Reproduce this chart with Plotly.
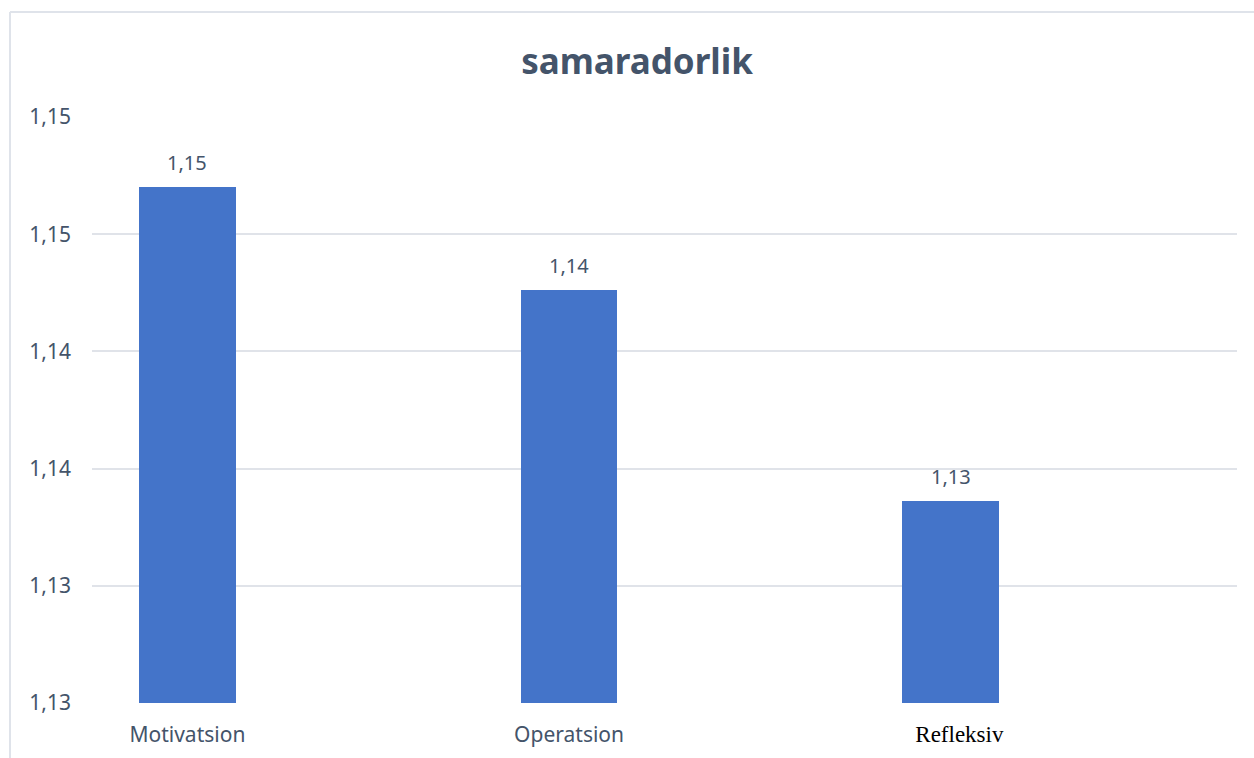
import plotly.graph_objects as go

categories = ["Motivatsion", "Operatsion", "Refleksiv"]
values = [1.1470, 1.1426, 1.1336]
value_labels = ["1,15", "1,14", "1,13"]
y_tickvals = [1.125, 1.130, 1.135, 1.140, 1.145, 1.150]
y_ticktext = ["1,13", "1,13", "1,14", "1,14", "1,15", "1,15"]
x_ticktext = [
    "Motivatsion",
    "Operatsion",
    "<span style='font-family:Liberation Serif;color:#000000;font-size:23px'>   Refleksiv</span>",
]
base_value = 1.125

slate = "#44546A"
font = "Noto Sans"

fig = go.Figure()
fig.add_trace(go.Bar(
    x=categories,
    y=[v - base_value for v in values],
    base=base_value,
    width=0.253,
    marker=dict(color="#4474c9", line=dict(width=0)),
    showlegend=False,
    hoverinfo="skip",
))

for c, v, t in zip(categories, values, value_labels):
    fig.add_annotation(x=c, y=v, text=t, showarrow=False, yanchor="bottom",
                       yshift=9, font=dict(family=font, size=20, color=slate))

fig.update_layout(
    width=1254, height=758,
    margin=dict(l=92, r=17, t=117, b=55),
    paper_bgcolor="white", plot_bgcolor="white",
    title=dict(text="<b>samaradorlik</b>", x=0.508, xanchor="center",
               y=0.918, yanchor="middle",
               font=dict(family=font, size=35, color=slate)),
    xaxis=dict(
        type="category", range=[-0.25, 2.75],
        tickvals=categories, ticktext=x_ticktext,
        showgrid=False, showline=False, ticks="",
        ticklabelstandoff=17, automargin=False,
        tickfont=dict(family=font, size=21, color=slate),
    ),
    yaxis=dict(
        range=[1.125, 1.150],
        tickvals=y_tickvals, ticktext=y_ticktext,
        showgrid=True, gridcolor="#e0e3e9", gridwidth=2,
        zeroline=False, showline=False, ticks="",
        ticklabelstandoff=20, automargin=False,
        tickfont=dict(family=font, size=21, color=slate),
    ),
    bargap=0,
)

# outer chart border (left and top edges)
fig.add_shape(type="line", xref="paper", yref="paper",
              x0=-82/1145, x1=-82/1145, y0=(703-12)/586, y1=-(758-703)/586,
              line=dict(color="#dfe3ea", width=2))
fig.add_shape(type="line", xref="paper", yref="paper",
              x0=-82/1145, x1=1254/1145, y0=(703-12)/586, y1=(703-12)/586,
              line=dict(color="#dfe3ea", width=2))

fig.write_html("out.html", config={"displayModeBar": False},
               post_script="document.body.style.margin='0';document.body.style.padding='0';")
